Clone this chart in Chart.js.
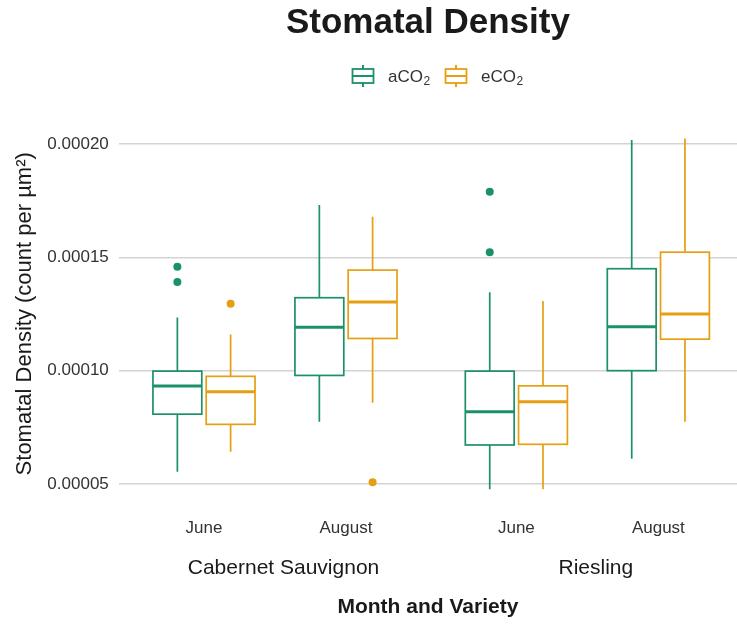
<!DOCTYPE html>
<html>
<head>
<meta charset="utf-8">
<script src="https://cdn.jsdelivr.net/npm/chart.js@4"></script>
<style>
  html, body { margin: 0; padding: 0; background: #ffffff; }
  #wrap { width: 737px; height: 625px; }
</style>
</head>
<body>
<div id="wrap"><canvas id="chart" width="737" height="625"></canvas></div>
<script>
// Categories
const months = ['June', 'August', 'June', 'August'];
const varieties = ['Cabernet Sauvignon', 'Riesling'];
const seriesNames = ['aCO', 'eCO']; // subscript "2" is added when drawn

// aCO2 box statistics (per month/variety group)
const aco2Min = [5.54e-5, 7.75e-5, 4.77e-5, 6.11e-5];
const aco2Q1 = [8.08e-5, 9.79e-5, 6.72e-5, 10.0e-5];
const aco2Median = [9.32e-5, 11.92e-5, 8.19e-5, 11.94e-5];
const aco2Q3 = [9.98e-5, 13.22e-5, 9.98e-5, 14.5e-5];
const aco2Max = [12.35e-5, 17.31e-5, 13.46e-5, 20.18e-5];
const aco2Outliers = [[14.59e-5, 13.91e-5], [], [17.9e-5, 15.23e-5], []];

// eCO2 box statistics
const eco2Min = [6.42e-5, 8.58e-5, 4.77e-5, 7.75e-5];
const eco2Q1 = [7.63e-5, 11.42e-5, 6.75e-5, 11.39e-5];
const eco2Median = [9.07e-5, 13.03e-5, 8.63e-5, 12.5e-5];
const eco2Q3 = [9.75e-5, 14.44e-5, 9.33e-5, 15.23e-5];
const eco2Max = [11.6e-5, 16.79e-5, 13.07e-5, 20.25e-5];
const eco2Outliers = [[12.95e-5], [5.08e-5], [], []];

// Y tick labels
const yTicks = [0.00005, 0.0001, 0.00015, 0.0002];

// Layout (x positions on a linear axis; two facet panels of width 2.2)
const groupPos = [0.6, 1.6, 2.8, 3.8];
const varietyPos = [1.16, 3.36];
const dodge = 0.1875;
const halfBox = 0.172;

const colors = ['#1b9168', '#e69f12'];
const FONT = '"Liberation Sans", Arial, sans-serif';

const series = [
  { min: aco2Min, q1: aco2Q1, med: aco2Median, q3: aco2Q3, max: aco2Max, out: aco2Outliers },
  { min: eco2Min, q1: eco2Q1, med: eco2Median, q3: eco2Q3, max: eco2Max, out: eco2Outliers }
];

// Outlier points -> scatter datasets
const datasets = series.map((s, i) => {
  const pts = [];
  s.out.forEach((vals, g) => {
    vals.forEach(v => pts.push({ x: groupPos[g] + (i === 0 ? -dodge : dodge), y: v }));
  });
  return {
    label: seriesNames[i] + '2',
    data: pts,
    backgroundColor: colors[i],
    borderColor: colors[i],
    pointRadius: 4,
    pointHoverRadius: 4,
    borderWidth: 0
  };
});

// Small boxplot glyph used as legend key
function drawGlyph(ctx, cx, cy, color) {
  ctx.strokeStyle = color;
  ctx.lineWidth = 2;
  ctx.beginPath();
  ctx.moveTo(cx, cy - 11); ctx.lineTo(cx, cy - 7);
  ctx.moveTo(cx, cy + 7); ctx.lineTo(cx, cy + 11);
  ctx.stroke();
  ctx.lineWidth = 1.8;
  ctx.strokeRect(cx - 10.5, cy - 7, 21, 14);
  ctx.lineWidth = 2;
  ctx.beginPath();
  ctx.moveTo(cx - 10.5, cy); ctx.lineTo(cx + 10.5, cy);
  ctx.stroke();
}

// Plugin: boxes, whiskers, legend and variety strip labels
const boxPlugin = {
  id: 'boxes',
  beforeDatasetsDraw(chart) {
    const { ctx, scales: { x, y } } = chart;
    ctx.save();
    series.forEach((s, i) => {
      const off = i === 0 ? -dodge : dodge;
      groupPos.forEach((gp, g) => {
        const cx = x.getPixelForValue(gp + off);
        const l = x.getPixelForValue(gp + off - halfBox);
        const r = x.getPixelForValue(gp + off + halfBox);
        const yMin = y.getPixelForValue(s.min[g]);
        const yQ1 = y.getPixelForValue(s.q1[g]);
        const yMed = y.getPixelForValue(s.med[g]);
        const yQ3 = y.getPixelForValue(s.q3[g]);
        const yMax = y.getPixelForValue(s.max[g]);
        ctx.strokeStyle = colors[i];
        ctx.lineWidth = 1.7;
        ctx.beginPath();
        ctx.moveTo(cx, yMax); ctx.lineTo(cx, yQ3);
        ctx.moveTo(cx, yQ1); ctx.lineTo(cx, yMin);
        ctx.stroke();
        ctx.fillStyle = '#ffffff';
        ctx.fillRect(l, yQ3, r - l, yQ1 - yQ3);
        ctx.strokeRect(l, yQ3, r - l, yQ1 - yQ3);
        ctx.lineWidth = 3;
        ctx.beginPath();
        ctx.moveTo(l, yMed); ctx.lineTo(r, yMed);
        ctx.stroke();
      });
    });
    ctx.restore();
  },
  afterDraw(chart) {
    const { ctx, scales: { x } } = chart;
    ctx.save();
    // variety labels under month ticks
    ctx.fillStyle = '#1a1a1a';
    ctx.font = '21px ' + FONT;
    ctx.textAlign = 'center';
    ctx.textBaseline = 'middle';
    varieties.forEach((v, i) => {
      ctx.fillText(v, x.getPixelForValue(varietyPos[i]), 568);
    });
    // legend
    const legendY = 76;
    const glyphX = [363, 456];
    const textX = [388, 481];
    seriesNames.forEach((n, i) => {
      drawGlyph(ctx, glyphX[i], legendY, colors[i]);
      ctx.fillStyle = '#333333';
      ctx.textAlign = 'left';
      ctx.textBaseline = 'alphabetic';
      ctx.font = '17px ' + FONT;
      ctx.fillText(n, textX[i], legendY + 6);
      const w = ctx.measureText(n).width;
      ctx.font = '12px ' + FONT;
      ctx.fillText('2', textX[i] + w + 0.5, legendY + 9);
    });
    ctx.restore();
  }
};

new Chart(document.getElementById('chart'), {
  type: 'scatter',
  data: { datasets },
  options: {
    responsive: false,
    animation: false,
    layout: { padding: 0, autoPadding: false },
    plugins: {
      tooltip: { enabled: false },
      legend: { display: false },
      title: {
        display: true,
        text: 'Stomatal Density',
        color: '#1a1a1a',
        fullSize: false,
        font: { family: FONT, size: 35, weight: 'bold' },
        padding: { top: 2, bottom: 77 }
      }
    },
    scales: {
      x: {
        type: 'linear',
        min: 0,
        max: 4.354,
        grid: { display: false, drawTicks: false },
        border: { display: false },
        afterBuildTicks(scale) {
          scale.ticks = groupPos.map(v => ({ value: v }));
        },
        afterFit(scale) {
          scale.height = 118.4;
          scale.paddingLeft = 0;
          scale.paddingRight = 0;
        },
        ticks: {
          padding: 12,
          color: '#333333',
          font: { family: FONT, size: 17 },
          maxRotation: 0,
          autoSkip: false,
          callback(value, index) { return months[index]; }
        },
        title: {
          display: true,
          text: 'Month and Variety',
          color: '#1a1a1a',
          font: { family: FONT, size: 21, weight: 'bold' },
          padding: { top: 0, bottom: 5 }
        }
      },
      y: {
        min: 4.0e-5,
        max: 21.02e-5,
        grid: { color: '#d3d3d3', lineWidth: 1.5, drawTicks: false },
        border: { display: false },
        afterBuildTicks(scale) {
          scale.ticks = yTicks.map(v => ({ value: v }));
        },
        afterFit(scale) {
          scale.width = 118.8;
          scale.paddingTop = 0;
          scale.paddingBottom = 0;
        },
        ticks: {
          padding: 10,
          color: '#333333',
          font: { family: FONT, size: 17 },
          callback(value) { return value.toFixed(5); }
        },
        title: {
          display: true,
          text: 'Stomatal Density (count per µm²)',
          color: '#1a1a1a',
          font: { family: FONT, size: 22 },
          padding: { top: 12, bottom: 0 }
        }
      }
    }
  },
  plugins: [boxPlugin]
});
</script>
</body>
</html>
